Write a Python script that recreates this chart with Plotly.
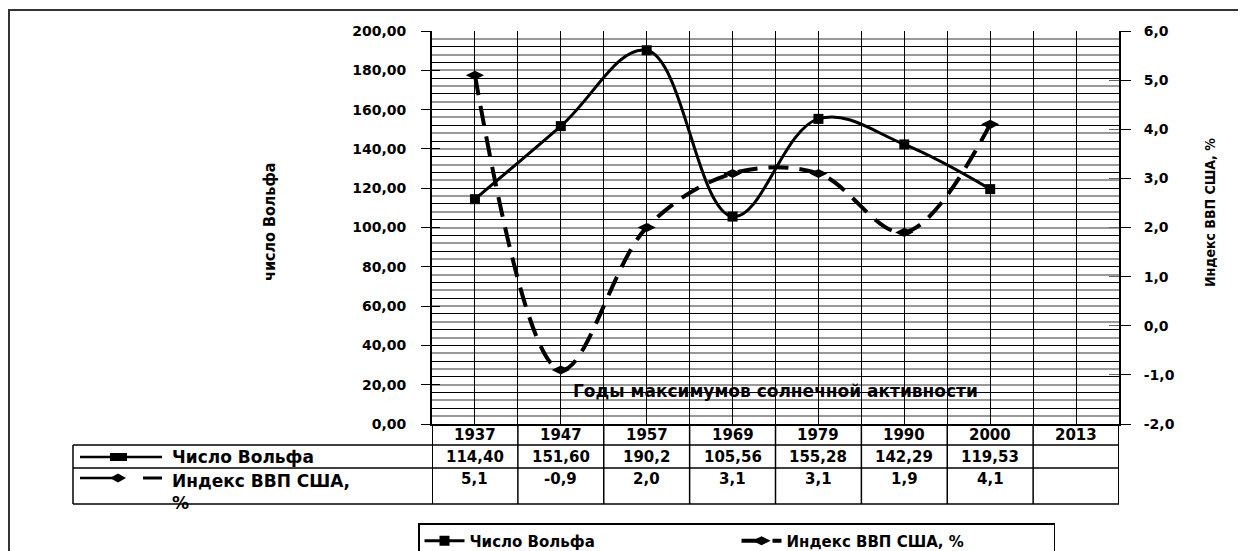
import plotly.graph_objects as go

# ---------------- data ----------------
years = ["1937", "1947", "1957", "1969", "1979", "1990", "2000", "2013"]
wolf = [114.40, 151.60, 190.2, 105.56, 155.28, 142.29, 119.53]
wolf_text = ["114,40", "151,60", "190,2", "105,56", "155,28", "142,29", "119,53"]
gdp = [5.1, -0.9, 2.0, 3.1, 3.1, 1.9, 4.1]
gdp_text = ["5,1", "-0,9", "2,0", "3,1", "3,1", "1,9", "4,1"]
left_ticks = [0, 20, 40, 60, 80, 100, 120, 140, 160, 180, 200]
right_ticks = [-2, -1, 0, 1, 2, 3, 4, 5, 6]
name_wolf = "Число Вольфа"
name_gdp = "Индекс ВВП США, %"
title_left = "число Вольфа"
title_right = "Индекс ВВП США, %"
x_caption = "Годы максимумов солнечной активности"

# ---------------- geometry (screen pixels) ----------------
SCR_W, SCR_H = 1246, 551
OFF = 8                      # page body margin
W, H = SCR_W - OFF, SCR_H - OFF
PL, PR, PT, PB = 432, 1119, 31, 424   # plot area on screen


def px(x):
    return (x - PL) / (PR - PL)


def py(y):
    return (PB - y) / (PB - PT)


FONT = "DejaVu Sans"
NARROW = "Liberation Sans Narrow, DejaVu Sans Condensed, Arial Narrow, sans-serif"
ncat = len(years)
xpos_w = [i + 0.5 for i in range(len(wolf))]
xpos_g = [i + 0.5 for i in range(len(gdp))]

fig = go.Figure()
fig.add_trace(go.Scatter(
    x=xpos_w, y=wolf, name=name_wolf, mode="lines+markers",
    line=dict(color="black", width=3, shape="spline", smoothing=1.1),
    marker=dict(symbol="square", size=10, color="black"),
    xaxis="x", yaxis="y"))
fig.add_trace(go.Scatter(
    x=xpos_g, y=gdp, name=name_gdp, mode="lines+markers",
    line=dict(color="black", width=4, shape="spline", smoothing=1, dash="20px,11px"),
    marker=dict(symbol="diamond-wide", size=13, color="black"),
    xaxis="x", yaxis="y2"))
# empty helper traces so overlay axes are drawn
for ax in ["y3", "y4", "y5"]:
    fig.add_trace(go.Scatter(x=[], y=[], xaxis="x", yaxis=ax, showlegend=False, hoverinfo="skip"))

tickfont = dict(family=FONT, size=14, color="black", weight="bold")

fig.update_layout(
    width=W, height=H,
    margin=dict(l=PL - OFF, r=SCR_W - PR, t=PT - OFF, b=SCR_H - PB, autoexpand=False),
    paper_bgcolor="white", plot_bgcolor="white",
    showlegend=True,
    xaxis=dict(range=[0, ncat], tickmode="array",
               tickvals=[i * 0.5 for i in range(2 * ncat + 1)],
               showticklabels=False, ticks="", showgrid=True,
               gridcolor="black", gridwidth=1, showline=True,
               linecolor="black", linewidth=2, zeroline=False),
    yaxis=dict(range=[0, 200], tick0=0, dtick=8, showticklabels=False, ticks="",
               showgrid=True, gridcolor="black", gridwidth=1,
               minor=dict(tick0=0, dtick=4, showgrid=True, gridcolor="#999999", gridwidth=1.5),
               showline=True, linecolor="black", linewidth=2, zeroline=False),
    yaxis3=dict(overlaying="y", side="left", anchor="x", range=[0, 200],
                tickmode="array", tickvals=left_ticks,
                ticktext=[f"{v:.2f}".replace(".", ",") for v in left_ticks],
                ticks="outside", ticklen=10, tickcolor="black", tickwidth=1,
                ticklabelstandoff=12, tickfont=tickfont,
                showgrid=False, showline=False, zeroline=False),
    yaxis4=dict(overlaying="y", side="left", anchor="x", range=[0, 200],
                tickmode="array", tickvals=left_ticks, showticklabels=False,
                ticks="inside", ticklen=8, tickcolor="black", tickwidth=1,
                showgrid=False, showline=False, zeroline=False),
    yaxis2=dict(overlaying="y", side="right", anchor="x", range=[-2, 6],
                tickmode="array", tickvals=right_ticks,
                ticktext=[f"{v:.1f}".replace(".", ",") for v in right_ticks],
                ticks="outside", ticklen=10, tickcolor="black", tickwidth=1,
                ticklabelstandoff=10, tickfont=tickfont,
                showgrid=False, showline=True, linecolor="black", linewidth=2,
                zeroline=False),
    yaxis5=dict(overlaying="y", side="right", anchor="x", range=[-2, 6],
                tickmode="array", tickvals=right_ticks, showticklabels=False,
                ticks="inside", ticklen=10, tickcolor="#666666", tickwidth=1,
                showgrid=False, showline=False, zeroline=False),
    legend=dict(orientation="h", x=px(418), xanchor="left", y=py(523), yanchor="top",
                bordercolor="black", borderwidth=1.5, bgcolor="white",
                font=dict(family=FONT, size=15, color="black", weight="bold"),
                itemwidth=40, traceorder="normal", entrywidth=262),
)

shapes = []
# outer chart border
shapes.append(dict(type="rect", xref="paper", yref="paper", x0=px(9), x1=px(1240),
                   y0=py(600), y1=py(10), line=dict(color="#333333", width=2)))
# data table: horizontal lines
for yy in [445, 468, 504]:
    shapes.append(dict(type="line", xref="paper", yref="paper", x0=px(73), x1=px(PR),
                       y0=py(yy), y1=py(yy), line=dict(color="black", width=1.5)))
# data table: vertical lines at category boundaries
for i in range(ncat + 1):
    shapes.append(dict(type="line", xref="x", yref="paper", x0=i, x1=i,
                       y0=py(PB), y1=py(504), line=dict(color="black", width=2 if i in (0, ncat) else 1.5)))
shapes.append(dict(type="line", xref="paper", yref="paper", x0=px(73), x1=px(73),
                   y0=py(445), y1=py(504), line=dict(color="black", width=1.5)))
# legend keys inside the table
shapes.append(dict(type="line", xref="paper", yref="paper", x0=px(80), x1=px(162),
                   y0=py(457), y1=py(457), line=dict(color="black", width=2.5)))
shapes.append(dict(type="rect", xref="paper", yref="paper", x0=px(110), x1=px(127),
                   y0=py(461), y1=py(453), fillcolor="black", line=dict(width=0)))
shapes.append(dict(type="line", xref="paper", yref="paper", x0=px(80), x1=px(113),
                   y0=py(478), y1=py(478), line=dict(color="black", width=2.5)))
shapes.append(dict(type="path", xref="paper", yref="paper",
                   path=f"M{px(110)},{py(478)} L{px(118)},{py(473.5)} L{px(126)},{py(478)} L{px(118)},{py(482.5)} Z",
                   fillcolor="black", line=dict(width=0)))
shapes.append(dict(type="line", xref="paper", yref="paper", x0=px(143), x1=px(162),
                   y0=py(478), y1=py(478), line=dict(color="black", width=3)))
fig.update_layout(shapes=shapes)

ann = []
tfont = dict(family=FONT, size=15, color="black", weight="bold")
for i, yr in enumerate(years):
    ann.append(dict(x=i + 0.5, xref="x", y=py(435), yref="paper", text=yr,
                    showarrow=False, font=tfont, xanchor="center", yanchor="middle"))
for i, t in enumerate(wolf_text):
    ann.append(dict(x=i + 0.5, xref="x", y=py(457), yref="paper", text=t,
                    showarrow=False, font=tfont, xanchor="center", yanchor="middle"))
for i, t in enumerate(gdp_text):
    ann.append(dict(x=i + 0.5, xref="x", y=py(479), yref="paper", text=t,
                    showarrow=False, font=tfont, xanchor="center", yanchor="middle"))
lfont = dict(family=FONT, size=17, color="black", weight="bold")
ann.append(dict(x=px(170), xref="paper", y=py(457), yref="paper", text=name_wolf,
                showarrow=False, font=lfont, xanchor="left", yanchor="middle"))
ann.append(dict(x=px(170), xref="paper", y=py(469), yref="paper",
                text="Индекс ВВП США,<br>%", align="left",
                showarrow=False, font=lfont, xanchor="left", yanchor="top"))
ann.append(dict(x=px(775), xref="paper", y=py(391), yref="paper", text=x_caption,
                showarrow=False, font=dict(family=FONT, size=17, color="black", weight="bold"),
                xanchor="center", yanchor="middle"))
ann.append(dict(x=px(270), xref="paper", y=py(222), yref="paper", text=title_left,
                textangle=-90, showarrow=False,
                font=dict(family=NARROW, size=16, color="black", weight="bold"),
                xanchor="center", yanchor="middle"))
ann.append(dict(x=px(1210), xref="paper", y=py(213), yref="paper", text=title_right,
                textangle=-90, showarrow=False,
                font=dict(family=NARROW, size=14, color="black", weight="bold"),
                xanchor="center", yanchor="middle"))
fig.update_layout(annotations=ann)

fig.write_html("out.html")
